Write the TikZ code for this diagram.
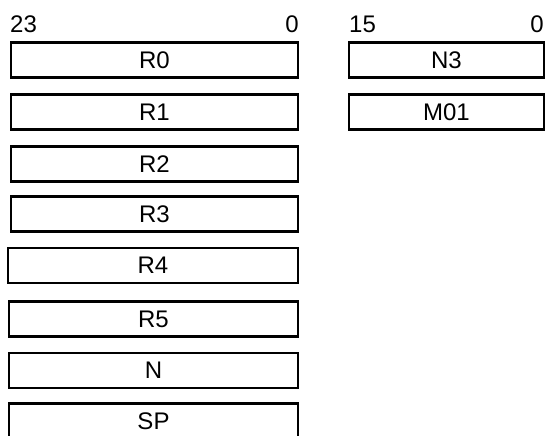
\documentclass[tikz,border=0pt]{standalone}
\usepackage{fontspec}
\setmainfont{Liberation Sans}
\usetikzlibrary{positioning}
\tikzset{
  reg/.style={draw, line width=2.2pt, minimum height=35pt, inner sep=0pt,
              font=\fontsize{24}{28}\selectfont},
  bitnum/.style={inner sep=0pt, font=\fontsize{24}{28}\selectfont}
}

\begin{document}
\begin{tikzpicture}[x=1pt,y=-1pt]
        \useasboundingbox (0,0) rectangle (549,436);
        % 24-bit registers
        \node[bitnum, anchor=base west] (hiA) at (10,33) {23};
        \node[bitnum, anchor=base east] (loA) at (299,33) {0};
        \node[reg, minimum width=287pt] (r0) at (154.5,60) {R0};
        \node[reg, minimum width=287pt] (r1) at (154.5,112) {R1};
        \node[reg, minimum width=287pt] (r2) at (154.5,164) {R2};
        \node[reg, minimum width=287pt] (r3) at (154.5,214) {R3};
        \node[reg, minimum width=290pt] (r4) at (153,265.5) {R4};
        \node[reg, minimum width=289pt] (r5) at (153.5,319) {R5};
        \node[reg, minimum width=289pt] (n) at (153.5,370.5) {N};
        \node[reg, minimum width=289pt] (sp) at (153.5,421) {SP};
        % 16-bit registers
        \node[bitnum, anchor=base west] (hiB) at (349,33) {15};
        \node[bitnum, anchor=base east] (loB) at (544,33) {0};
        \node[reg, minimum width=195pt] (n3) at (446.5,60) {N3};
        \node[reg, minimum width=195pt] (m01) at (446.5,112) {M01};
      \end{tikzpicture}
\end{document}
